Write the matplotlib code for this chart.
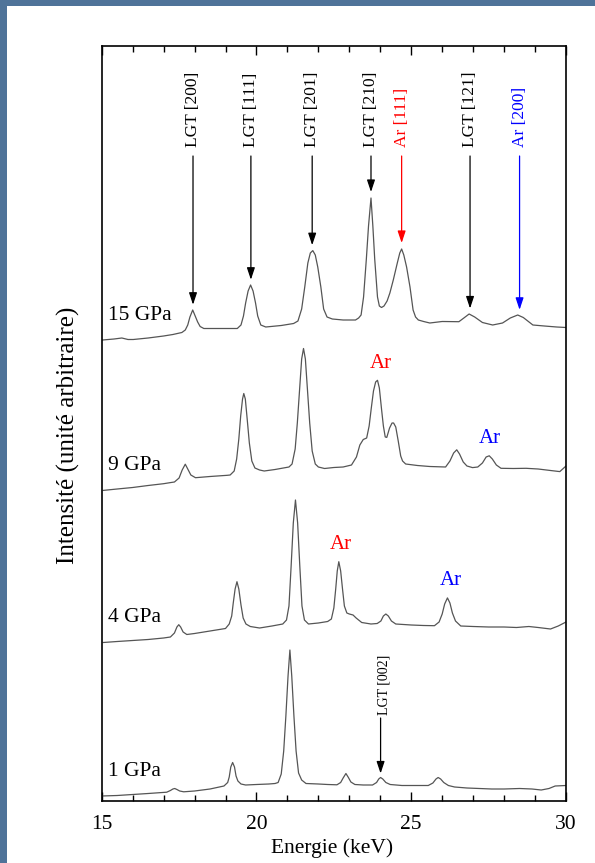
import numpy as np
import matplotlib
matplotlib.use("Agg")
import matplotlib.pyplot as plt
from matplotlib.patches import Rectangle
from matplotlib.ticker import MultipleLocator

plt.rcParams["font.family"] = ["Liberation Serif", "DejaVu Serif"]

# ---- spectra: energy (keV) and intensity (arbitrary units) ----
pressures = ["1 GPa", "4 GPa", "9 GPa", "15 GPa"]

energy_1 = [15.00, 15.50, 16.00, 16.50, 17.10, 17.22, 17.30, 17.36, 17.43, 17.52, 17.65, 18.00, 18.50,
            18.95, 19.07, 19.12, 19.17, 19.23, 19.29, 19.34, 19.40, 19.50, 19.65, 20.00, 20.40, 20.60,
            20.70, 20.80, 20.88, 20.95, 21.02, 21.08, 21.14, 21.21, 21.28, 21.36, 21.46, 21.60, 22.00,
            22.30, 22.60, 22.72, 22.80, 22.89, 22.97, 23.05, 23.18, 23.45, 23.75, 23.88, 23.95, 24.01,
            24.08, 24.18, 24.32, 24.70, 25.20, 25.55, 25.70, 25.80, 25.87, 25.95, 26.05, 26.20, 26.40,
            26.80, 27.20, 27.60, 28.00, 28.50, 28.90, 29.20, 29.45, 29.65, 30.00]
counts_1 = [5.0, 5.5, 6.5, 7.5, 8.8, 10.5, 12.0, 12.5, 11.5, 10.0, 9.2, 10.0, 12.0,
            15.0, 18.5, 24.0, 34.0, 38.5, 34.0, 25.0, 20.0, 17.0, 16.0, 16.5, 17.0, 17.5,
            18.5, 27.0, 50.0, 85.0, 125.0, 151.0, 125.0, 85.0, 50.0, 28.0, 21.0, 17.5, 17.0,
            16.5, 16.2, 18.5, 23.0, 27.5, 23.5, 19.0, 16.5, 16.0, 16.0, 18.5, 22.0, 23.5,
            22.0, 18.5, 16.5, 15.5, 15.5, 15.5, 18.0, 22.0, 23.5, 22.0, 18.5, 15.5, 14.0,
            13.0, 12.5, 12.0, 12.0, 12.5, 12.0, 11.0, 12.5, 15.0, 15.5]

energy_4 = [15.05, 15.50, 16.00, 16.50, 17.00, 17.22, 17.35, 17.43, 17.49, 17.55, 17.63, 17.75, 18.00,
            18.50, 19.00, 19.12, 19.20, 19.25, 19.31, 19.37, 19.43, 19.50, 19.57, 19.66, 19.80, 20.10,
            20.50, 20.85, 20.97, 21.05, 21.12, 21.19, 21.26, 21.33, 21.40, 21.47, 21.55, 21.68, 22.00,
            22.30, 22.42, 22.50, 22.56, 22.61, 22.66, 22.72, 22.78, 22.84, 22.92, 23.00, 23.12, 23.22,
            23.40, 23.70, 23.90, 24.02, 24.10, 24.18, 24.26, 24.36, 24.50, 25.00, 25.40, 25.75, 25.90,
            26.00, 26.08, 26.17, 26.25, 26.33, 26.43, 26.60, 27.00, 27.50, 28.00, 28.40, 28.80, 29.10,
            29.50, 29.75, 30.00]
counts_4 = [8.5, 9.5, 10.5, 11.5, 13.0, 14.0, 18.0, 24.0, 26.3, 24.0, 19.0, 16.5, 17.5,
            20.0, 22.5, 27.0, 35.0, 48.0, 62.0, 69.3, 62.0, 46.0, 33.0, 27.0, 24.5, 23.0,
            25.0, 27.0, 31.0, 45.0, 85.0, 128.0, 151.0, 128.0, 85.0, 45.0, 31.0, 27.0, 28.0,
            29.5, 32.0, 43.0, 62.0, 80.0, 89.3, 80.0, 62.0, 45.0, 38.0, 37.0, 36.0, 33.0,
            28.5, 27.0, 27.5, 30.0, 35.0, 37.0, 35.0, 30.0, 27.0, 26.0, 25.5, 25.3, 29.0,
            37.0, 47.0, 53.1, 48.0, 38.0, 30.0, 25.0, 24.5, 24.0, 24.0, 23.5, 24.5, 23.5,
            22.0, 25.0, 29.0]

energy_9 = [15.05, 15.50, 16.00, 16.50, 17.00, 17.20, 17.35, 17.50, 17.60, 17.70, 17.78, 17.88, 18.03,
            18.50, 19.06, 19.15, 19.28, 19.36, 19.43, 19.49, 19.55, 19.59, 19.64, 19.70, 19.77, 19.85,
            19.95, 20.10, 20.25, 20.60, 21.05, 21.15, 21.25, 21.32, 21.39, 21.46, 21.52, 21.58, 21.65,
            21.72, 21.80, 21.90, 22.00, 22.20, 22.50, 22.80, 23.07, 23.23, 23.34, 23.45, 23.56, 23.64,
            23.71, 23.78, 23.85, 23.91, 23.97, 24.04, 24.10, 24.16, 24.21, 24.30, 24.38, 24.43, 24.50,
            24.58, 24.66, 24.72, 24.82, 25.20, 25.60, 26.11, 26.25, 26.37, 26.47, 26.56, 26.68, 26.80,
            26.98, 27.15, 27.30, 27.42, 27.52, 27.62, 27.75, 27.90, 28.30, 28.71, 29.10, 29.50, 29.80,
            30.00]
counts_9 = [10.6, 12.0, 13.5, 15.5, 17.3, 18.3, 19.0, 23.0, 31.0, 36.8, 32.0, 26.0, 23.3,
            24.5, 25.7, 26.0, 30.0, 42.0, 62.0, 85.0, 102.0, 107.5, 102.0, 82.0, 58.0, 40.0,
            33.0, 31.0, 30.0, 31.5, 34.0, 37.0, 52.0, 78.0, 110.0, 142.0, 152.5, 142.0, 110.0,
            78.0, 50.0, 37.0, 34.0, 32.5, 33.5, 34.0, 36.0, 44.0, 56.0, 61.5, 63.0, 75.0,
            93.0, 110.0, 119.0, 120.7, 113.0, 92.0, 75.0, 64.0, 63.6, 73.0, 78.0, 78.0, 74.0,
            60.0, 45.0, 40.0, 37.0, 35.5, 34.5, 34.0, 40.0, 48.0, 51.2, 47.0, 39.0, 35.0,
            33.4, 34.0, 38.0, 44.0, 45.2, 42.0, 36.0, 32.7, 32.5, 32.7, 32.0, 30.5, 29.4,
            35.0]

energy_15 = [15.03, 15.40, 15.65, 15.85, 16.02, 16.50, 17.00, 17.30, 17.59, 17.70, 17.78, 17.85, 17.94,
             18.02, 18.10, 18.18, 18.30, 18.80, 19.38, 19.50, 19.58, 19.65, 19.73, 19.81, 19.89, 19.97,
             20.04, 20.14, 20.30, 20.80, 21.20, 21.34, 21.46, 21.56, 21.66, 21.74, 21.82, 21.90, 21.98,
             22.08, 22.17, 22.28, 22.45, 22.80, 23.20, 23.30, 23.38, 23.46, 23.55, 23.62, 23.70, 23.76,
             23.82, 23.91, 23.97, 24.04, 24.12, 24.22, 24.31, 24.42, 24.55, 24.63, 24.69, 24.76, 24.85,
             24.96, 25.06, 25.14, 25.23, 25.40, 25.60, 26.00, 26.54, 26.70, 26.87, 27.05, 27.30, 27.63,
             27.95, 28.20, 28.44, 28.62, 28.93, 29.30, 29.70, 30.00]
counts_15 = [11.0, 12.0, 13.0, 11.5, 11.5, 13.0, 15.0, 16.5, 18.5, 21.0, 26.0, 34.0, 41.0,
             35.0, 29.0, 24.5, 22.5, 22.5, 22.5, 26.0, 35.0, 48.0, 60.0, 66.0, 60.0, 48.0,
             35.0, 26.0, 24.0, 25.5, 27.5, 30.0, 42.0, 64.0, 88.0, 98.0, 100.4, 96.0, 84.0,
             64.0, 42.0, 34.0, 32.0, 31.0, 31.0, 33.0, 36.0, 54.0, 92.0, 125.0, 153.0, 125.0,
             92.0, 54.0, 45.0, 43.5, 45.0, 50.0, 58.0, 71.0, 88.0, 98.0, 102.0, 96.0, 84.0,
             64.0, 41.0, 34.0, 31.0, 29.5, 28.0, 29.5, 29.3, 33.0, 37.0, 34.0, 28.5, 26.0,
             28.0, 33.0, 36.0, 33.5, 26.0, 25.0, 24.0, 23.5]

# reflections indexed on the 15 GPa pattern
hkl_labels = ["LGT [200]", "LGT [111]", "LGT [201]", "LGT [210]", "Ar [111]", "LGT [121]", "Ar [200]"]
hkl_energy = [17.95, 19.82, 21.80, 23.70, 24.69, 26.90, 28.50]
hkl_colors = ["black", "black", "black", "black", "red", "black", "blue"]

# argon peaks marked on the 9 and 4 GPa patterns: (peak energy, label energy, colour)
ar_marks_9 = [(23.91, 24.02, "red"), (27.52, 27.55, "blue")]
ar_marks_4 = [(22.66, 22.72, "red"), (26.17, 26.27, "blue")]

# the single reflection marked on the 1 GPa pattern
lgt002_energy = 24.01

spectra = [(energy_1, counts_1), (energy_4, counts_4), (energy_9, counts_9), (energy_15, counts_15)]
for e, c in spectra:
    assert len(e) == len(c)

# vertical stacking of the patterns
offsets = [0, 150, 300, 450]

fig = plt.figure(figsize=(5.95, 8.63), dpi=100, facecolor="#4f7399")
fig.patches.append(Rectangle((7 / 595, 0), 1, 1 - 6 / 863, transform=fig.transFigure,
                             facecolor="white", edgecolor="none", zorder=-10))

ax = fig.add_axes([101.7 / 595, 1 - 801 / 863, (566 - 101.7) / 595, (801 - 46) / 863])
ax.set_zorder(1)
ax.patch.set_alpha(0)
ax.set_xlim(15, 30)
ax.set_ylim(0, 755)
ax.set_yticks([])
ax.xaxis.set_major_locator(MultipleLocator(5))
ax.xaxis.set_minor_locator(MultipleLocator(1))
ax.tick_params(axis="x", which="both", direction="in", top=True, bottom=True,
               labeltop=False, width=1.0, labelsize=15.5, pad=10)
ax.tick_params(axis="x", which="major", length=6.5)
ax.tick_params(axis="x", which="minor", length=4)
for sp in ax.spines.values():
    sp.set_linewidth(1.2)

line_color = "#555555"
for (e, c), off, name in zip(spectra, offsets, pressures):
    y = np.asarray(c) + off
    ax.plot(e, y, color=line_color, lw=0.9)
    ax.text(15.21, y[0] + 25, name, fontsize=15.5, ha="left", va="center")

# arrows and Miller indices on the 15 GPa pattern
e15, c15 = spectra[3]
arrow_tail = 645
for lab, en, col in zip(hkl_labels, hkl_energy, hkl_colors):
    tip = np.interp(en, e15, c15) + offsets[3] + 6
    ax.annotate("", xy=(en, tip), xytext=(en, arrow_tail),
                arrowprops=dict(arrowstyle="-|>,head_length=0.6,head_width=0.2",
                                color=col, lw=0.9, mutation_scale=12,
                                shrinkA=0, shrinkB=0))
    ax.text(en, arrow_tail + 9, lab, rotation=90, ha="center", va="bottom",
            fontsize=12.5, color=col)

# argon labels
for marks, (e, c), off in [(ar_marks_9, spectra[2], offsets[2]), (ar_marks_4, spectra[1], offsets[1])]:
    for pk, le, col in marks:
        yl = np.interp(pk, e, c) + off + 17
        ax.text(le, yl, "Ar", color=col, fontsize=15, ha="center", va="center")

# LGT [002] on the 1 GPa pattern
e1, c1 = spectra[0]
tip = np.interp(lgt002_energy, e1, c1) + offsets[0] + 4
ax.annotate("", xy=(lgt002_energy, tip), xytext=(lgt002_energy, 83),
            arrowprops=dict(arrowstyle="-|>,head_length=0.6,head_width=0.2",
                            color="black", lw=0.9, mutation_scale=12,
                            shrinkA=0, shrinkB=0))
ax.text(lgt002_energy + 0.1, 86, "LGT [002]", rotation=90, ha="center", va="bottom", fontsize=10)

fig.text(332 / 595, 1 - 848 / 863, "Energie (keV)", fontsize=15.5, ha="center", va="center")
fig.text(68 / 595, 1 - 435 / 863, "Intensité (unité arbitraire)", fontsize=18,
         rotation=90, ha="center", va="center")

fig.savefig("out.png", dpi=100, facecolor=fig.get_facecolor())
